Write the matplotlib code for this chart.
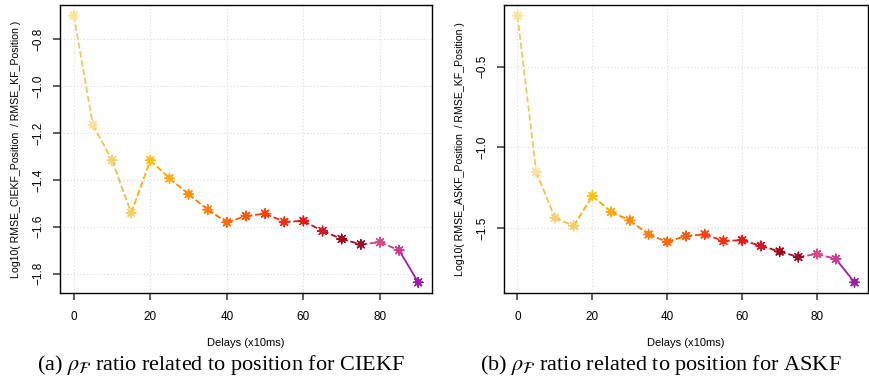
import numpy as np
import matplotlib
matplotlib.use('Agg')
import matplotlib.pyplot as plt

# delays (x10ms)
delays = [0, 5, 10, 15, 20, 25, 30, 35, 40, 45, 50, 55, 60, 65, 70, 75, 80, 85, 90]

# log10(RMSE_filter / RMSE_KF) for position
ciekf = [-0.699, -1.165, -1.316, -1.541, -1.316, -1.393, -1.461, -1.527, -1.581, -1.554,
         -1.544, -1.579, -1.575, -1.618, -1.652, -1.675, -1.666, -1.700, -1.837]
askf = [-0.183, -1.152, -1.437, -1.487, -1.301, -1.400, -1.453, -1.540, -1.586, -1.549,
        -1.540, -1.580, -1.576, -1.611, -1.646, -1.680, -1.661, -1.692, -1.837]

# one colour per delay (pale yellow -> orange -> red -> purple)
pt_colors = ['#FCE39A', '#FBE0A0', '#F3D377', '#F2D065', '#FFC20A', '#FFAD14', '#FF8F0A',
             '#FF8012', '#FF6A0A', '#FF5A0A', '#FF4010', '#F03010', '#E81818', '#D41828',
             '#A0081A', '#98102A', '#D8488A', '#CC3C90', '#A01CA8']
line_colors = ['#F5C660', '#F2C24A', '#F0BE40', '#FFB000', '#FFA000', '#FF8C00',
               '#FF7800', '#FF6800', '#FF5800', '#FF4400', '#F53010', '#E82010', '#D81020',
               '#B00818', '#98102A', '#D0407F', '#C83A8A', '#A01CA8']

ylabels = ['Log10( RMSE_CIEKF_Position  / RMSE_KF_Position )',
           'Log10( RMSE_ASKF_Position  / RMSE_KF_Position )']
captions = [r'(a) $\rho_{\mathcal{F}}$ ratio related to position for CIEKF',
            r'(b) $\rho_{\mathcal{F}}$ ratio related to position for ASKF']
yticks = [[-1.8, -1.6, -1.4, -1.2, -1.0, -0.8], [-1.5, -1.0, -0.5]]
xticks = [0, 20, 40, 60, 80]

plt.rcParams['font.family'] = ['Liberation Sans', 'DejaVu Sans']
plt.rcParams['mathtext.fontset'] = 'stix'

fig = plt.figure(figsize=(8.7, 3.85), dpi=100)
boxes = [[60/870, 1-293/385, 372/870, 288/385], [504/870, 1-293/385, 364/870, 288/385]]
lab_x = [16/870, 460/870]
cap_x = [221/870, 661/870]

for k, vals in enumerate([ciekf, askf]):
    ax = fig.add_axes(boxes[k])
    x = np.array(delays, dtype=float)
    y = np.array(vals)
    for i in range(len(x) - 1):
        ls = '-' if i == len(x) - 2 else (0, (3.5, 1.5))
        ax.plot(x[i:i+2], y[i:i+2], color=line_colors[i], lw=1.3, ls=ls, zorder=2)
    ax.scatter(x, y, s=24, c=pt_colors, marker='o', linewidths=0, zorder=3)
    ax.scatter(x, y, s=48, c=pt_colors, marker=(8, 2, 0), linewidths=1.0, zorder=4)

    span = y.max() - y.min()
    ax.set_xlim(-3.6, 93.6)
    ax.set_ylim(y.min() - 0.04*span, y.max() + 0.04*span)
    ax.set_xticks(xticks)
    ax.set_yticks(yticks[k])
    ax.set_yticklabels([f'{v:.1f}'.replace('-', '\u2212') for v in yticks[k]],
                       rotation=90, va='center')
    ax.grid(True, color='#D8D8D8', ls=(0, (1, 2)), lw=0.8)
    ax.tick_params(axis='both', direction='out', length=5, width=1.1, color='#333333',
                   labelsize=8.5)
    ax.tick_params(axis='x', pad=8)
    ax.tick_params(axis='y', pad=6)
    for s in ax.spines.values():
        s.set_linewidth(1.0)
    ax.set_xlabel('Delays (x10ms)', fontsize=8)
    ax.xaxis.set_label_coords(0.5, -0.155)
    fig.text(lab_x[k], 1-149/385, ylabels[k], rotation=90, fontsize=7.6,
             ha='center', va='center')
    fig.text(cap_x[k], 1-365/385, captions[k], fontsize=16, family='Liberation Serif',
             ha='center', va='center')

fig.savefig('out.png', dpi=100)
